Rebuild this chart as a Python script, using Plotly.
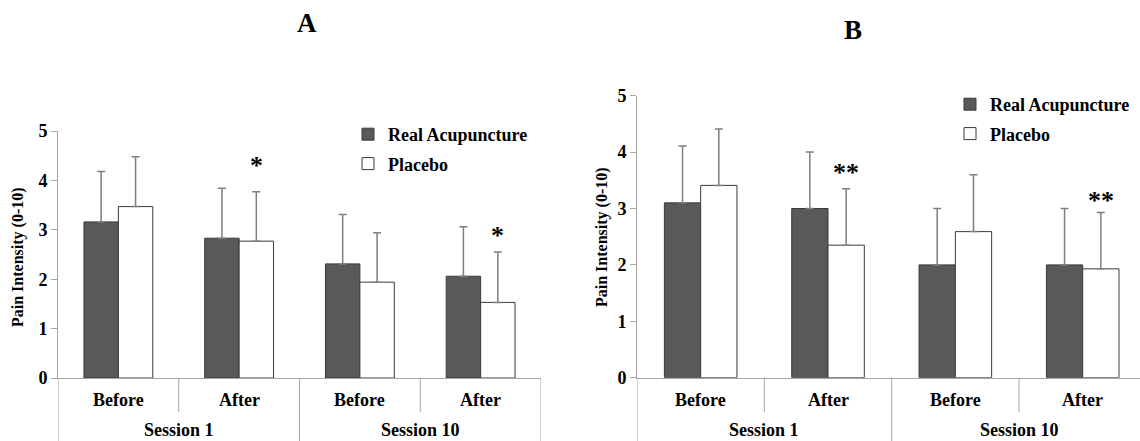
import plotly.graph_objects as go

# ---------------- data ----------------
sessions = ["Session 1", "Session 1", "Session 10", "Session 10"]
phases = ["Before", "After", "Before", "After"]
series_names = ["Real Acupuncture", "Placebo"]

a_real = [3.16, 2.83, 2.31, 2.06]
a_real_err = [1.02, 1.01, 1.00, 1.00]
a_placebo = [3.47, 2.77, 1.94, 1.53]
a_placebo_err = [1.01, 1.00, 1.00, 1.02]
a_stars = ["", "*", "", "*"]
a_star_y = [None, 4.31, None, 2.89]

b_real = [3.10, 3.00, 2.00, 2.00]
b_real_err = [1.01, 1.00, 1.00, 1.00]
b_placebo = [3.41, 2.35, 2.59, 1.93]
b_placebo_err = [1.00, 1.00, 1.01, 1.00]
b_stars = ["", "**", "", "**"]
b_star_y = [None, 3.63, None, 3.15]

y_ticks = [0, 1, 2, 3, 4, 5]
panel_titles = ["A", "B"]
y_title = "Pain Intensity (0-10)"

# ---------------- style ----------------
FONT = "Liberation Serif, Times New Roman, serif"
DARK = "#595959"
EDGE = "#3a3a3a"
AXIS = "#a6a6a6"
ERR = "#7f7f7f"
BARGAP = 0.43
xs = list(range(len(phases)))


def f(size):
    return dict(family=FONT, size=size, color="black", weight="bold")


fig = go.Figure()


def add_panel(real, real_err, plac, plac_err, xa, ya, leg):
    fig.add_trace(go.Bar(
        x=xs, y=real, name=series_names[0], xaxis=xa, yaxis=ya, legend=leg,
        legendgroup=leg + "r",
        marker=dict(color=DARK, line=dict(color=EDGE, width=1)),
        error_y=dict(type="data", array=real_err, arrayminus=[0] * len(real),
                     symmetric=False, color=ERR, thickness=1.5, width=4),
    ))
    fig.add_trace(go.Bar(
        x=xs, y=plac, name=series_names[1], xaxis=xa, yaxis=ya, legend=leg,
        legendgroup=leg + "p",
        marker=dict(color="white", line=dict(color=EDGE, width=1)),
        error_y=dict(type="data", array=plac_err, arrayminus=[0] * len(plac),
                     symmetric=False, color=ERR, thickness=1.5, width=4),
    ))


add_panel(a_real, a_real_err, a_placebo, a_placebo_err, "x", "y", "legend")
add_panel(b_real, b_real_err, b_placebo, b_placebo_err, "x2", "y2", "legend2")

W, H = 1140, 441
A_dom_x = [58 / W, 541 / W]
A_dom_y = [(H - 378) / H, (H - 131) / H]
B_dom_x = [637 / W, 1.0]
B_dom_y = [(H - 377.7) / H, (H - 95.7) / H]

yax = dict(range=[0, 5], tickvals=y_ticks, showline=True, linecolor=AXIS,
           linewidth=1, ticks="outside", ticklen=6, tickcolor=AXIS,
           showgrid=False, zeroline=False, tickfont=f(18), fixedrange=True,
           automargin=False)
xax = dict(showline=True, linecolor=AXIS, linewidth=1, showticklabels=False,
           ticks="", showgrid=False, zeroline=False, fixedrange=True,
           automargin=False)

fig.update_layout(
    width=W, height=H, margin=dict(l=0, r=0, t=0, b=0, pad=0, autoexpand=False),
    paper_bgcolor="white", plot_bgcolor="white",
    font=f(17),
    barmode="group", bargap=BARGAP, bargroupgap=0,
    xaxis=dict(xax, domain=A_dom_x, range=[-0.5, 3.5], anchor="y"),
    yaxis=dict(yax, domain=A_dom_y, anchor="x"),
    xaxis2=dict(xax, domain=B_dom_x, range=[-0.5, 3.45], anchor="y2"),
    yaxis2=dict(yax, domain=B_dom_y, anchor="x2"),
    legend=dict(x=348 / W, y=1 - 116 / H, xanchor="left", yanchor="top",
                font=f(18), bgcolor="rgba(0,0,0,0)", tracegroupgap=3,
                traceorder="grouped"),
    legend2=dict(x=950 / W, y=1 - 86 / H, xanchor="left", yanchor="top",
                 font=f(18), bgcolor="rgba(0,0,0,0)", tracegroupgap=3,
                 traceorder="grouped"),
    showlegend=True,
)

# ---- category labels, dividers, stars ----
annotations = []
shapes = []
half_bar = (1 - BARGAP) / 4  # offset of placebo bar centre from category centre

for xa, dom_y, stars, star_y, outer in [
        ("x", A_dom_y, a_stars, a_star_y, [-0.5, 1.5, 3.5]),
        ("x2", B_dom_y, b_stars, b_star_y, [-0.5, 1.5])]:
    ya = "y" if xa == "x" else "y2"
    for i, p in enumerate(phases):
        annotations.append(dict(x=i, y=1 - 400 / H, xref=xa, yref="paper", text=p,
                                showarrow=False, xanchor="center", yanchor="middle",
                                font=f(18)))
        if stars[i]:
            annotations.append(dict(x=i + half_bar, y=star_y[i], xref=xa, yref=ya,
                                    text=stars[i], showarrow=False,
                                    xanchor="center", yanchor="middle", font=f(26)))
    for s in range(0, len(sessions), 2):
        annotations.append(dict(x=s + 0.5, y=1 - 430 / H, xref=xa, yref="paper",
                                text=sessions[s], showarrow=False, xanchor="center",
                                yanchor="middle", font=f(18)))
        shapes.append(dict(type="line", xref=xa, yref="paper", x0=s + 0.5, x1=s + 0.5,
                           y0=(H - 412) / H, y1=dom_y[0], line=dict(color=AXIS, width=1)))
    for xo in outer:
        shapes.append(dict(type="line", xref=xa, yref="paper", x0=xo, x1=xo,
                           y0=0, y1=dom_y[0], line=dict(color=AXIS, width=1)))

# panel titles and y-axis titles
for txt, tx, ty in [(panel_titles[0], 307, 23), (panel_titles[1], 853, 30)]:
    annotations.append(dict(x=tx / W, y=1 - ty / H, xref="paper", yref="paper", text=txt,
                            showarrow=False, xanchor="center", yanchor="middle",
                            font=f(27)))
for tx, ty in [(18, 257), (602, 237)]:
    annotations.append(dict(x=tx / W, y=1 - ty / H, xref="paper", yref="paper", text=y_title,
                            textangle=-90, showarrow=False, xanchor="center",
                            yanchor="middle", font=f(16)))

fig.update_layout(annotations=annotations, shapes=shapes)
fig.write_html(
    "out.html",
    config={"displayModeBar": False},
    post_script="document.body.style.margin='0';document.body.style.overflow='hidden';",
)
